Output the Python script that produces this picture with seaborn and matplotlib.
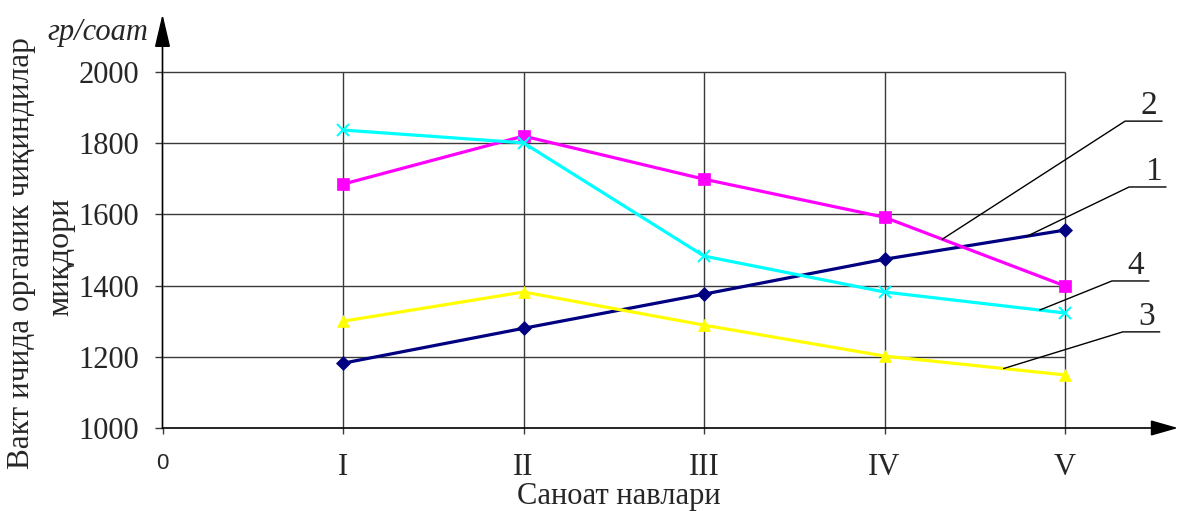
import numpy as np
import pandas as pd
import matplotlib
matplotlib.use("Agg")
import matplotlib.pyplot as plt
import seaborn as sns

# ---- data ----
categories = ["I", "II", "III", "IV", "V"]
x_pos = [1, 2, 3, 4, 5]
series1 = [1182, 1280, 1376, 1474, 1556]   # navy, diamonds
series2 = [1685, 1820, 1699, 1592, 1399]   # magenta, squares
series3 = [1300, 1382, 1289, 1202, 1149]   # yellow, triangles
series4 = [1837, 1801, 1483, 1382, 1323]   # cyan, crosses
series_names = ["1", "2", "3", "4"]
y_ticks = [1000, 1200, 1400, 1600, 1800, 2000]
x_tick_labels = ["0"] + categories

sns.set_theme(style="white")
plt.rcParams['font.family'] = ['Liberation Serif', 'DejaVu Serif']

fig = plt.figure(figsize=(11.78, 5.11), dpi=100)
ax = fig.add_axes([162.5/1178, 83/511, (1178-162.5)/1178, 418/511])

# gridlines (stop at last category / top tick)
ax.hlines(y_ticks[1:], 0, x_pos[-1], color="#3a3a3a", lw=1.0, zorder=1)
ax.vlines(x_pos, y_ticks[0], y_ticks[-1], color="#3a3a3a", lw=1.0, zorder=1)

styles = [
    (series1, "#000080", "D", 7, "1"),
    (series2, "#FF00FF", "s", 8, "2"),
    (series3, "#FFFF00", "^", 9, "3"),
    (series4, "#00FFFF", "x", 9, "4"),
]
for vals, col, mk, ms, name in styles:
    df = pd.DataFrame({"x": x_pos, "y": vals})
    sns.lineplot(data=df, x="x", y="y", ax=ax, color=col, marker=mk,
                 markersize=ms, markeredgecolor=col, markeredgewidth=1.5 if mk == "x" else 0.5,
                 linewidth=2.3, zorder=3, legend=False)

ax.set_xlim(0, (1178-162.5)/180.5)
ax.set_ylim(1000, 1000 + 418/0.356)

for s in ax.spines.values():
    s.set_visible(False)

# axes with arrows
ax.annotate("", xy=(1.0, 0), xytext=(0, 0), xycoords="axes fraction",
            arrowprops=dict(arrowstyle="-|>,head_length=1.4,head_width=0.4",
                            color="#555555", lw=1.2, shrinkA=0, shrinkB=0,
                            fc="black", ec="black"))
ax.annotate("", xy=(0, 0.99), xytext=(0, 0), xycoords="axes fraction",
            arrowprops=dict(arrowstyle="-|>,head_length=1.7,head_width=0.4",
                            color="#555555", lw=1.2, shrinkA=0, shrinkB=0,
                            fc="black", ec="black"))

ax.set_yticks(y_ticks)
ax.set_yticklabels([str(v) for v in y_ticks], fontsize=22)
ax.set_xticks([0] + x_pos)
ax.set_xticklabels(x_tick_labels, fontsize=22)
ax.tick_params(axis="y", direction="out", length=6, width=1, color="#3a3a3a", pad=11, left=True)
ax.tick_params(axis="x", direction="out", length=4, width=1, color="#3a3a3a", pad=14, bottom=True)
lbl0 = ax.get_xticklabels()[0]
lbl0.set_fontfamily("Liberation Sans")
lbl0.set_fontsize(16)

ax.set_xlabel("")
ax.set_ylabel("")
ax.text(0.4495, -0.165, "Саноат навлари", transform=ax.transAxes,
        ha="center", va="center", fontsize=22)
ax.text(-0.1384, 0.4187, "Вакт ичида органик чиқиндилар", transform=ax.transAxes,
        ha="center", va="center", rotation=90, fontsize=22.5)
ax.text(-0.100, 0.410, "миқдори", transform=ax.transAxes,
        ha="center", va="center", rotation=90, fontsize=23)
ax.text(-0.014, 0.945, "гр/соат", transform=ax.transAxes,
        ha="right", va="center", fontsize=22, style="italic")

# leader labels
anchor_x = {"1": 4.79, "2": 4.32, "3": 4.66, "4": 4.86}
label_pos = {"1": (5.355, 1677), "2": (5.333, 1862), "3": (5.32, 1270), "4": (5.26, 1413)}
data_map = {"1": series1, "2": series2, "3": series3, "4": series4}
ul = 0.205
for name in series_names:
    ax_x = anchor_x[name]
    ax_y = np.interp(ax_x, x_pos, data_map[name])
    lx, ly = label_pos[name]
    ax.plot([ax_x, lx, lx + ul], [ax_y, ly, ly], color="black", lw=1.0, zorder=4)
    ax.text(lx + ul/2 + 0.03, ly, name, ha="center", va="bottom", fontsize=24)

fig.savefig("out.png", dpi=100)
